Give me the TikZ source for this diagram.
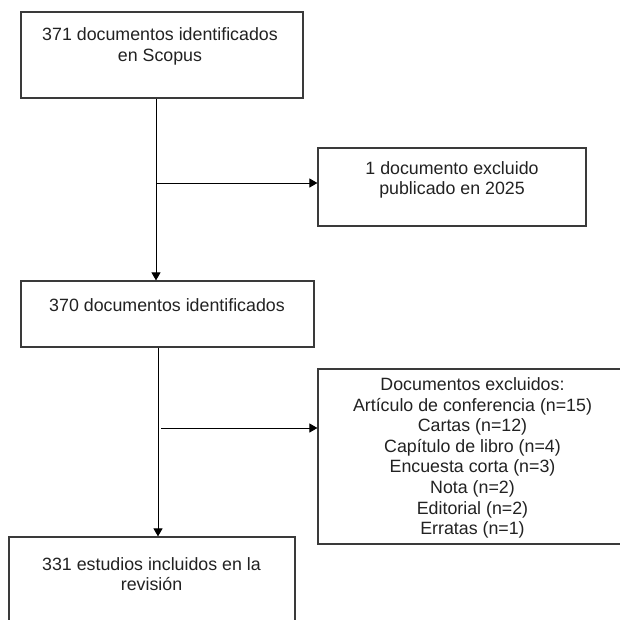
\documentclass[tikz,border=0pt]{standalone}
\usepackage{fontspec}
\setmainfont{Liberation Sans}
\usetikzlibrary{arrows.meta}
\definecolor{boxline}{HTML}{3A3A3A}
\definecolor{txt}{HTML}{222222}
\tikzset{
  box/.style={draw=boxline, line width=1.2pt, rectangle, inner sep=0pt, fill=none},
  lbl/.style={text=txt, align=center, inner sep=0pt, font=\fontsize{17.8}{20.6}\selectfont},
  arr/.style={draw=black, line width=1pt, -{Triangle[length=8pt,width=9pt]}}
}
\begin{document}
\begin{tikzpicture}[x=1pt,y=-1pt]
\useasboundingbox (0,0) rectangle (620,619);
\fill[white] (0,0) rectangle (620,619);
\clip (0,0) rectangle (620,619);
% boxes
\node[box, minimum width=282pt, minimum height=86pt] (b1) at (162,55) {};
\node[box, minimum width=268pt, minimum height=78pt] (b2) at (452,187) {};
\node[box, minimum width=293pt, minimum height=66pt] (b3) at (167.5,314) {};
\node[box, minimum width=309pt, minimum height=175pt] (b4) at (472.5,456.5) {};
\node[box, minimum width=286pt, minimum height=100pt] (b5) at (152,587) {};
% texts
\node[lbl] (t1) at (160,46.5) {371 documentos identificados\\en Scopus};
\node[lbl] (t2) at (452,180) {1 documento excluido\\publicado en 2025};
\node[lbl] (t3) at (167,305) {370 documentos identificados};
\node[lbl] (t4) at (472.5,458) {Documentos excluidos:\\Artículo de conferencia (n=15)\\Cartas (n=12)\\Capítulo de libro (n=4)\\Encuesta corta (n=3)\\Nota (n=2)\\Editorial (n=2)\\Erratas (n=1)};
\node[lbl] (t5) at (151.5,574) {331 estudios incluidos en la\\revisión};
% connectors
\coordinate (j1) at (156,183);
\coordinate (v2) at (158,428);
\coordinate (j2) at (161,428);
\draw[arr] (b1.south -| j1) -- (b3.north -| j1);
\draw[arr] (j1) -- (b2.west |- j1);
\draw[arr] (b3.south -| v2) -- (b5.north -| v2);
\draw[arr] (j2) -- (b4.west |- j2);
\end{tikzpicture}
\end{document}
